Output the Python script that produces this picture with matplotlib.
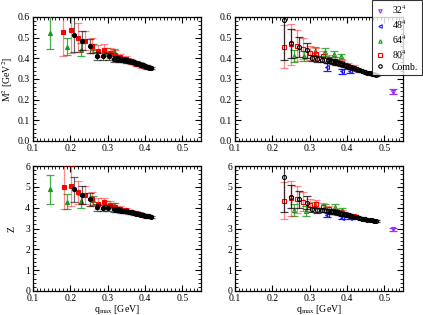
import matplotlib
matplotlib.use("Agg")
import matplotlib.pyplot as plt
from matplotlib.ticker import MultipleLocator
from matplotlib.lines import Line2D

plt.rcParams['font.family'] = ['Liberation Serif', 'DejaVu Serif']
plt.rcParams['mathtext.fontset'] = 'stix'

# ---------------- data: M^2 (top) ----------------
# 64^4
m_x64 = [0.146, 0.192, 0.228, 0.262, 0.295, 0.317]
m_y64 = [0.524, 0.456, 0.442, 0.448, 0.430, 0.435]
m_e64 = [0.080, 0.040, 0.030, 0.020, 0.018, 0.012]
# 80^4
m_x80 = [0.180, 0.201, 0.221, 0.240, 0.259, 0.275, 0.291, 0.305, 0.320, 0.334, 0.348, 0.362, 0.376, 0.390, 0.404]
m_y80 = [0.529, 0.536, 0.500, 0.485, 0.462, 0.435, 0.441, 0.427, 0.418, 0.405, 0.395, 0.385, 0.375, 0.366, 0.357]
m_e80 = [0.120, 0.110, 0.070, 0.045, 0.035, 0.030, 0.030, 0.025, 0.020, 0.018, 0.016, 0.014, 0.013, 0.012, 0.010]
# Comb.
m_xc = [0.209, 0.230, 0.252, 0.271, 0.288, 0.303, 0.316, 0.323, 0.330, 0.337, 0.344, 0.351, 0.358, 0.365,
        0.371, 0.377, 0.383, 0.389, 0.395, 0.400, 0.405, 0.410, 0.415]
m_yc = [0.515, 0.485, 0.460, 0.410, 0.410, 0.410, 0.397, 0.399, 0.396, 0.394, 0.392, 0.389, 0.386, 0.383,
        0.380, 0.376, 0.373, 0.369, 0.366, 0.362, 0.359, 0.355, 0.352]
m_ec = [0.085, 0.045, 0.035, 0.020, 0.018, 0.016, 0.014, 0.013, 0.012, 0.012, 0.011, 0.011, 0.010, 0.010,
        0.009, 0.009, 0.008, 0.008, 0.008, 0.007, 0.007, 0.006, 0.006]

# right panel M^2
r_m_x32 = [0.522]
r_m_y32 = [0.239]
r_m_e32 = [0.012]
r_m_x48 = [0.347, 0.386, 0.409]
r_m_y48 = [0.358, 0.337, 0.337]
r_m_e48 = [0.018, 0.012, 0.010]
r_m_x64 = [0.258, 0.286, 0.315, 0.340, 0.364, 0.385]
r_m_y64 = [0.410, 0.410, 0.435, 0.430, 0.422, 0.410]
r_m_e64 = [0.030, 0.025, 0.020, 0.018, 0.015, 0.013]
r_m_x80 = [0.232, 0.249, 0.267, 0.282, 0.300, 0.318, 0.335, 0.352, 0.369, 0.386, 0.402, 0.418]
r_m_y80 = [0.456, 0.467, 0.460, 0.446, 0.427, 0.420, 0.410, 0.398, 0.388, 0.378, 0.365, 0.355]
r_m_e80 = [0.105, 0.100, 0.075, 0.050, 0.035, 0.030, 0.025, 0.020, 0.018, 0.015, 0.013, 0.012]
r_m_xc = [0.232, 0.251, 0.271, 0.292, 0.306, 0.320, 0.334, 0.349, 0.356, 0.363, 0.370, 0.377, 0.384, 0.391,
          0.398, 0.405, 0.412, 0.419, 0.426, 0.433, 0.440, 0.447, 0.454, 0.461, 0.467, 0.473, 0.479]
r_m_yc = [0.586, 0.472, 0.456, 0.440, 0.400, 0.396, 0.394, 0.390, 0.388, 0.384, 0.380, 0.376, 0.372, 0.368,
          0.364, 0.360, 0.356, 0.351, 0.347, 0.342, 0.338, 0.334, 0.330, 0.327, 0.324, 0.322, 0.320]
r_m_ec = [0.195, 0.070, 0.048, 0.036, 0.015, 0.014, 0.013, 0.012, 0.011, 0.011, 0.010, 0.010, 0.009, 0.009,
          0.008, 0.008, 0.008, 0.007, 0.007, 0.007, 0.006, 0.006, 0.006, 0.005, 0.005, 0.005, 0.005]

# ---------------- data: Z (bottom) ----------------
z_x64 = [0.146, 0.192, 0.228, 0.262, 0.295, 0.317]
z_y64 = [4.88, 4.29, 4.30, 4.35, 4.15, 4.12]
z_e64 = [0.70, 0.35, 0.30, 0.20, 0.16, 0.12]
z_x80 = [0.182, 0.202, 0.221, 0.240, 0.258, 0.275, 0.291, 0.305, 0.320, 0.334, 0.348, 0.362, 0.376, 0.390, 0.404]
z_y80 = [4.98, 5.04, 4.73, 4.60, 4.40, 4.20, 4.25, 4.15, 4.05, 3.95, 3.88, 3.80, 3.74, 3.67, 3.60]
z_e80 = [1.06, 0.95, 0.57, 0.42, 0.33, 0.25, 0.22, 0.18, 0.16, 0.14, 0.12, 0.11, 0.10, 0.09, 0.08]
z_xc = [0.209, 0.230, 0.252, 0.271, 0.288, 0.302, 0.316, 0.323, 0.330, 0.337, 0.344, 0.351, 0.358, 0.365,
        0.371, 0.377, 0.383, 0.389, 0.395, 0.400, 0.405, 0.410, 0.415]
z_yc = [4.88, 4.62, 4.40, 4.01, 4.00, 3.98, 3.92, 3.90, 3.88, 3.86, 3.84, 3.82, 3.79, 3.77,
        3.74, 3.72, 3.70, 3.67, 3.65, 3.62, 3.60, 3.58, 3.55]
z_ec = [0.60, 0.42, 0.30, 0.17, 0.15, 0.14, 0.12, 0.11, 0.10, 0.10, 0.09, 0.09, 0.08, 0.08,
        0.07, 0.07, 0.07, 0.06, 0.06, 0.06, 0.05, 0.05, 0.05]

r_z_x32 = [0.522]
r_z_y32 = [2.97]
r_z_e32 = [0.07]
r_z_x48 = [0.347, 0.387, 0.409]
r_z_y48 = [3.66, 3.52, 3.52]
r_z_e48 = [0.12, 0.08, 0.07]
r_z_x64 = [0.258, 0.289, 0.313, 0.340, 0.367, 0.386]
r_z_y64 = [3.90, 3.85, 4.12, 4.05, 4.05, 3.88]
r_z_e64 = [0.30, 0.25, 0.15, 0.12, 0.12, 0.10]
r_z_x80 = [0.232, 0.249, 0.267, 0.282, 0.300, 0.318, 0.335, 0.352, 0.369, 0.386, 0.402, 0.418]
r_z_y80 = [4.33, 4.45, 4.40, 4.28, 4.13, 4.20, 4.05, 3.92, 3.84, 3.76, 3.66, 3.58]
r_z_e80 = [0.88, 0.85, 0.65, 0.45, 0.30, 0.18, 0.16, 0.14, 0.12, 0.11, 0.10, 0.09]
r_z_xc = [0.232, 0.251, 0.271, 0.292, 0.306, 0.320, 0.334, 0.349, 0.356, 0.363, 0.370, 0.377, 0.384, 0.391,
          0.398, 0.405, 0.412, 0.419, 0.426, 0.433, 0.440, 0.447, 0.454, 0.461, 0.467, 0.473, 0.479]
r_z_yc = [5.49, 4.53, 4.40, 4.24, 3.92, 3.88, 3.88, 3.84, 3.82, 3.80, 3.78, 3.75, 3.72, 3.69,
          3.66, 3.63, 3.60, 3.57, 3.54, 3.51, 3.48, 3.45, 3.42, 3.40, 3.39, 3.38, 3.37]
r_z_ec = [1.70, 0.55, 0.40, 0.32, 0.13, 0.12, 0.11, 0.10, 0.10, 0.09, 0.09, 0.08, 0.08, 0.08,
          0.07, 0.07, 0.07, 0.06, 0.06, 0.06, 0.05, 0.05, 0.05, 0.05, 0.04, 0.04, 0.04]

x_ticks = [0.1, 0.2, 0.3, 0.4, 0.5]
legend_labels = ['32$^4$', '48$^4$', '64$^4$', '80$^4$', 'Comb.']

fig = plt.figure(figsize=(4.23, 3.15), dpi=100)
W, H = 423, 315
def ax_at(x0, y0, x1, y1):
    return fig.add_axes([x0 / W, 1 - y1 / H, (x1 - x0) / W, (y1 - y0) / H])

ax_tl = ax_at(33, 17, 201, 141)
ax_tr = ax_at(235, 17, 403, 141)
ax_bl = ax_at(33, 166, 201, 291)
ax_br = ax_at(235, 166, 403, 291)

RED = '#ff0000'
GREEN = '#1a9a1a'
BLUE = '#1a1aff'
PURPLE = '#9b30ff'
MS = 2.9

def eb(ax, x, y, e, color, marker, filled, alpha=1.0, ms=MS, z=3):
    ax.errorbar(x, y, yerr=e, fmt='none', ecolor=color, elinewidth=0.9, capsize=3,
                capthick=0.9, alpha=alpha, zorder=z)
    ax.plot(x, y, linestyle='none', marker=marker, ms=ms,
            mfc=color if filled else 'none', mec=color, mew=0.8, zorder=z + 0.5)

def style(ax, ylim, ymaj, ymin):
    ax.set_xlim(0.1, 0.55)
    ax.set_ylim(*ylim)
    ax.set_xticks(x_ticks)
    ax.set_xticklabels([f'{t:.1f}' for t in x_ticks])
    ax.xaxis.set_minor_locator(MultipleLocator(0.01))
    ax.yaxis.set_major_locator(MultipleLocator(ymaj))
    ax.yaxis.set_minor_locator(MultipleLocator(ymin))
    ax.tick_params(which='both', direction='in', top=True, right=True, labelsize=7, pad=2)
    ax.tick_params(which='major', length=4, width=0.8)
    ax.tick_params(which='minor', length=2, width=0.6)
    for s in ax.spines.values():
        s.set_linewidth(0.9)

# left panels: filled markers
for ax, (x64, y64, e64, x80, y80, e80, xc, yc, ec) in [
    (ax_tl, (m_x64, m_y64, m_e64, m_x80, m_y80, m_e80, m_xc, m_yc, m_ec)),
    (ax_bl, (z_x64, z_y64, z_e64, z_x80, z_y80, z_e80, z_xc, z_yc, z_ec)),
]:
    eb(ax, x64, y64, e64, GREEN, '^', True, alpha=0.8, z=3)
    eb(ax, x80, y80, e80, RED, 's', True, alpha=0.45, z=4)
    eb(ax, xc, yc, ec, 'black', 'o', True, alpha=0.6, z=5)

# right panels: open markers
for ax, (x32, y32, e32, x48, y48, e48, x64, y64, e64, x80, y80, e80, xc, yc, ec) in [
    (ax_tr, (r_m_x32, r_m_y32, r_m_e32, r_m_x48, r_m_y48, r_m_e48, r_m_x64, r_m_y64, r_m_e64,
             r_m_x80, r_m_y80, r_m_e80, r_m_xc, r_m_yc, r_m_ec)),
    (ax_br, (r_z_x32, r_z_y32, r_z_e32, r_z_x48, r_z_y48, r_z_e48, r_z_x64, r_z_y64, r_z_e64,
             r_z_x80, r_z_y80, r_z_e80, r_z_xc, r_z_yc, r_z_ec)),
]:
    eb(ax, x32, y32, e32, PURPLE, 'v', False, z=3)
    eb(ax, x48, y48, e48, BLUE, '<', False, z=3)
    eb(ax, x64, y64, e64, GREEN, '^', False, alpha=0.8, z=3)
    eb(ax, x80, y80, e80, RED, 's', False, alpha=0.45, z=4)
    eb(ax, xc, yc, ec, 'black', 'o', False, alpha=0.75, z=5)

style(ax_tl, (0, 0.6), 0.1, 0.02)
style(ax_tr, (0, 0.6), 0.1, 0.02)
style(ax_bl, (0, 6), 1, 0.2)
style(ax_br, (0, 6), 1, 0.2)

ax_tl.set_ylabel('M$^2$ [GeV$^2$]', fontsize=7, labelpad=2)
ax_bl.set_ylabel('Z', fontsize=7, labelpad=6)
ax_bl.set_xlabel(r'q$_{\mathrm{max}}$ [GeV]', fontsize=7, labelpad=0.5)
ax_br.set_xlabel(r'q$_{\mathrm{max}}$ [GeV]', fontsize=7, labelpad=0.5)

# legend
handles = [
    Line2D([], [], ls='none', marker='v', ms=2.5, mfc='none', mec=PURPLE, mew=0.8),
    Line2D([], [], ls='none', marker='<', ms=2.5, mfc='none', mec=BLUE, mew=0.8),
    Line2D([], [], ls='none', marker='^', ms=2.5, mfc='none', mec=GREEN, mew=0.8),
    Line2D([], [], ls='none', marker='s', ms=2.5, mfc='none', mec=RED, mew=0.8),
    Line2D([], [], ls='none', marker='o', ms=2.5, mfc='none', mec='black', mew=0.8),
]
leg = fig.legend(handles, legend_labels, loc='upper left', bbox_to_anchor=(372 / W, 1.0),
                 fontsize=7, frameon=True, fancybox=False, edgecolor='black',
                 handlelength=1.0, handletextpad=0.7, borderpad=0.35, labelspacing=0.2,
                 borderaxespad=0)
leg.get_frame().set_linewidth(0.8)

fig.savefig('out.png', dpi=100)
